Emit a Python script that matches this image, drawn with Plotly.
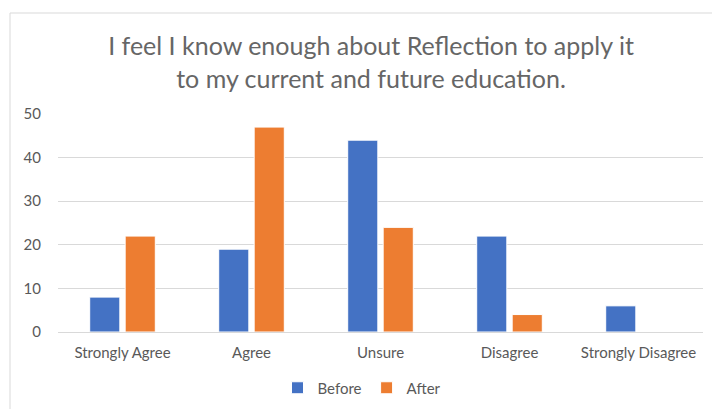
import plotly.graph_objects as go

categories = ["Strongly Agree", "Agree", "Unsure", "Disagree", "Strongly Disagree"]
before = [8, 19, 44, 22, 6]
after = [22, 47, 24, 4, 0]
y_ticks = [0, 10, 20, 30, 40, 50]

FONT = "Lato"
GRAY = "#595959"

fig = go.Figure()
fig.add_trace(go.Bar(name="Before", x=categories, y=before,
                     marker=dict(color="#4472C4", line=dict(color="#ffffff", width=1))))
fig.add_trace(go.Bar(name="After", x=categories, y=after,
                     marker=dict(color="#ED7D31", line=dict(color="#ffffff", width=1))))

fig.update_layout(
    width=712, height=409,
    margin=dict(l=58, r=9, t=114, b=77, autoexpand=False),
    paper_bgcolor="white", plot_bgcolor="white",
    barmode="group", bargap=0.45, bargroupgap=0.15,
    font=dict(family=FONT, color=GRAY, size=15),
    title=dict(text="I feel I know enough about Reflection to apply it<br>to my current and future education.",
               x=371/712, xanchor="center", xref="container",
               y=1 - 55/409, yanchor="middle", yref="container",
               font=dict(family=FONT, size=25, color="#666666")),
    showlegend=True,
    legend=dict(orientation="h", x=(362-58)/645, xanchor="center", xref="paper",
                y=(332-388)/218, yanchor="middle", yref="paper",
                font=dict(family=FONT, size=15, color=GRAY),
                itemwidth=30, tracegroupgap=0),
)
fig.update_yaxes(range=[0, 50], tickvals=y_ticks, showgrid=True, gridcolor="#d9d9d9", gridwidth=1,
                 zeroline=True, zerolinecolor="#d9d9d9", zerolinewidth=1, automargin=False,
                 showline=False, ticklabelstandoff=16, tickfont=dict(size=15, color=GRAY))
fig.update_xaxes(showline=False, showgrid=False, ticklabelstandoff=10, automargin=False,
                 tickfont=dict(size=15, color=GRAY))

fig.add_shape(type="rect", xref="paper", yref="paper",
              x0=(10-58)/645, x1=1.2, y0=-0.5, y1=(332-13)/218,
              line=dict(color="#d9d9d9", width=1), fillcolor="rgba(0,0,0,0)", layer="below")

fig.write_html("out.html")
